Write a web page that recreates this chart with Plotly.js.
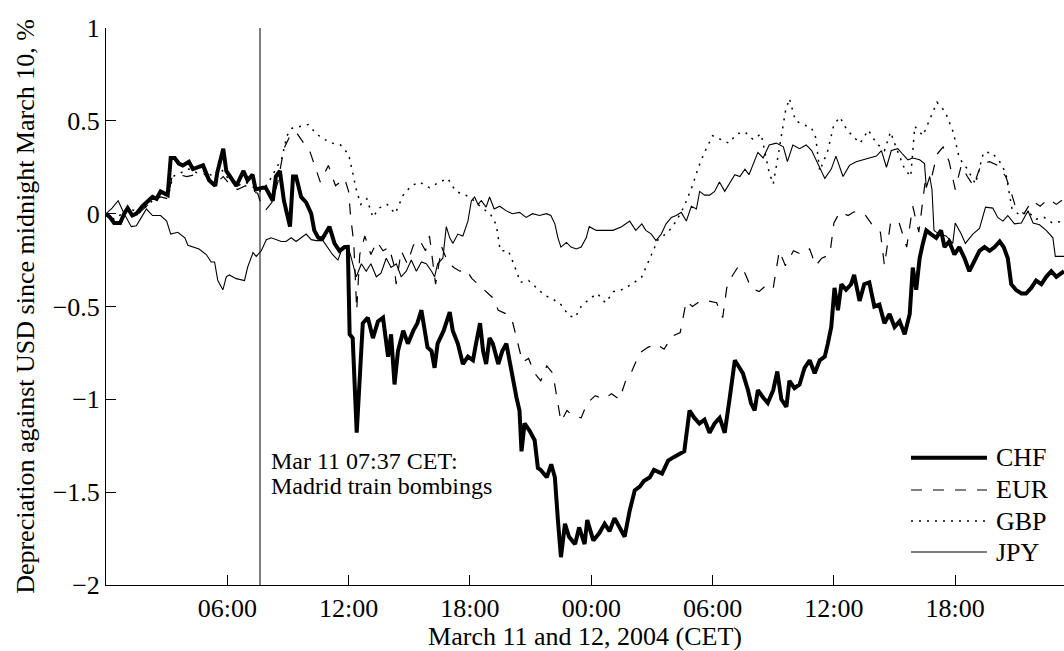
<!DOCTYPE html>
<html>
<head>
<meta charset="utf-8">
<script src="https://cdn.plot.ly/plotly-3.0.1.min.js"></script>
<style>
html,body{margin:0;padding:0;background:#fff;}
#chart{width:1064px;height:651px;}
</style>
</head>
<body>
<div id="chart"></div>
<script>
// ---- data: hours since midnight 11 March 2004 (CET), depreciation vs USD in % ----
const chfHours = [0,0.2,0.4,0.7,0.9,1.07,1.3,1.5,1.8,2.1,2.3,2.5,2.7,3.05,3.2,3.4,3.6,3.8,4.1,4.3,4.5,4.8,5.1,5.4,5.5,5.8,5.95,6.2,6.45,6.8,7.0,7.25,7.4,7.75,7.9,8.25,8.4,8.6,8.8,9.1,9.25,9.4,9.65,9.9,10.15,10.3,10.5,10.7,11.05,11.3,11.55,11.8,11.96,12.05,12.2,12.4,12.55,12.7,12.95,13.2,13.45,13.7,13.95,14.1,14.27,14.44,14.7,14.93,15.2,15.4,15.6,15.75,15.9,16.1,16.25,16.4,16.7,17.0,17.15,17.4,17.65,17.9,18.15,18.3,18.5,18.65,18.8,18.97,19.13,19.4,19.6,19.8,20.05,20.3,20.45,20.55,20.7,20.95,21.2,21.36,21.5,21.8,22.02,22.2,22.35,22.5,22.7,22.9,23.2,23.4,23.67,23.8,24.1,24.4,24.66,24.9,25.15,25.4,25.65,25.9,26.15,26.4,26.6,26.9,27.1,27.5,27.8,28.1,28.4,28.6,28.86,29.1,29.35,29.6,29.85,30.1,30.35,30.6,30.85,31.1,31.33,31.5,31.75,31.9,32.08,32.24,32.5,32.73,33.0,33.2,33.4,33.65,33.8,34.05,34.3,34.55,34.8,35.05,35.3,35.55,35.7,35.87,36.03,36.2,36.37,36.6,36.85,37.0,37.27,37.5,37.75,38.0,38.25,38.5,38.75,39.0,39.25,39.5,39.75,39.9,40.07,40.24,40.4,40.57,40.8,41.06,41.3,41.47,41.7,41.96,42.2,42.46,42.7,42.95,43.2,43.45,43.7,43.95,44.2,44.4,44.6,44.77,45.0,45.27,45.5,45.76,46.0,46.26,46.5,46.75,47.0,47.38];
const chfValues = [0,-0.02,-0.05,-0.05,0.0,0.03,-0.01,0.0,0.04,0.07,0.09,0.08,0.12,0.10,0.30,0.30,0.27,0.26,0.28,0.24,0.25,0.26,0.18,0.15,0.22,0.35,0.23,0.19,0.15,0.23,0.18,0.21,0.13,0.14,0.14,0.07,0.20,0.23,0.07,-0.07,0.20,0.20,0.09,0.06,0.0,-0.09,-0.13,-0.135,-0.07,-0.16,-0.20,-0.18,-0.18,-0.65,-0.67,-1.18,-0.86,-0.59,-0.56,-0.67,-0.58,-0.56,-0.77,-0.65,-0.92,-0.74,-0.63,-0.70,-0.63,-0.59,-0.52,-0.63,-0.72,-0.74,-0.83,-0.70,-0.63,-0.53,-0.63,-0.70,-0.81,-0.77,-0.79,-0.70,-0.59,-0.74,-0.81,-0.67,-0.70,-0.81,-0.74,-0.70,-0.85,-0.99,-1.06,-1.28,-1.13,-1.17,-1.22,-1.37,-1.38,-1.42,-1.35,-1.42,-1.65,-1.85,-1.67,-1.74,-1.78,-1.69,-1.78,-1.65,-1.76,-1.72,-1.67,-1.71,-1.64,-1.69,-1.74,-1.60,-1.49,-1.47,-1.44,-1.42,-1.38,-1.40,-1.33,-1.31,-1.29,-1.28,-1.06,-1.10,-1.13,-1.11,-1.18,-1.13,-1.10,-1.18,-0.99,-0.79,-0.83,-0.86,-0.95,-1.02,-1.06,-0.95,-0.99,-1.02,-0.95,-0.85,-1.00,-1.04,-0.90,-0.94,-0.92,-0.83,-0.79,-0.86,-0.79,-0.77,-0.70,-0.61,-0.40,-0.52,-0.38,-0.41,-0.38,-0.33,-0.47,-0.38,-0.37,-0.50,-0.49,-0.59,-0.54,-0.61,-0.58,-0.65,-0.54,-0.29,-0.41,-0.24,-0.16,-0.09,-0.11,-0.13,-0.09,-0.18,-0.15,-0.22,-0.18,-0.24,-0.31,-0.25,-0.20,-0.18,-0.20,-0.18,-0.15,-0.18,-0.24,-0.38,-0.41,-0.43,-0.43,-0.40,-0.36,-0.38,-0.34,-0.31,-0.34,-0.31];

const eurHours = [0,0.4,0.8,1.1,1.5,1.9,2.3,2.7,3.05,3.25,3.6,4.0,4.4,4.8,5.2,5.5,5.8,6.1,6.5,6.9,7.2,7.5,7.7,7.9,8.2,8.5,8.8,9.1,9.4,9.8,10.1,10.35,10.6,11.0,11.35,11.8,12.0,12.1,12.25,12.4,12.55,12.8,13.1,13.4,13.7,14.0,14.25,14.35,14.6,14.9,15.2,15.5,15.8,16.0,16.3,16.6,16.9,17.2,17.5,17.8,18.1,18.4,18.8,19.1,19.4,19.8,20.1,20.3,20.6,20.9,21.2,21.5,21.8,22.1,22.3,22.5,22.8,23.1,23.5,23.8,24.2,24.6,25.0,25.4,25.7,26.0,26.4,26.8,27.2,27.6,28.0,28.4,28.7,29.0,29.4,29.8,30.2,30.5,30.7,31.0,31.3,31.6,31.9,32.3,32.7,33.0,33.3,33.6,34.0,34.4,34.8,35.1,35.4,35.8,36.0,36.3,36.7,37.0,37.5,37.9,38.3,38.5,38.8,39.2,39.6,39.9,40.2,40.5,40.8,41.1,41.4,41.7,42.0,42.3,42.6,42.9,43.3,43.7,44.1,44.5,44.75,45.0,45.4,45.8,46.2,46.6,47.0,47.38];
const eurValues = [0,-0.04,-0.02,0.02,-0.01,0.03,0.07,0.09,0.08,0.19,0.21,0.20,0.21,0.22,0.17,0.17,0.20,0.16,0.13,0.15,0.12,0.11,0.04,0.02,0.06,0.17,0.35,0.42,0.44,0.38,0.33,0.25,0.17,0.26,0.15,0.19,0.12,-0.02,-0.15,-0.52,-0.22,-0.12,-0.22,-0.15,-0.20,-0.18,-0.28,-0.38,-0.20,-0.27,-0.17,-0.14,-0.20,-0.12,-0.38,-0.18,-0.26,-0.29,-0.31,-0.30,-0.35,-0.38,-0.42,-0.45,-0.52,-0.54,-0.58,-0.67,-0.80,-0.78,-0.86,-0.90,-0.82,-0.86,-1.00,-1.12,-1.06,-1.09,-1.10,-1.02,-0.98,-1.00,-0.97,-1.00,-0.90,-0.85,-0.75,-0.72,-0.70,-0.73,-0.66,-0.64,-0.47,-0.50,-0.47,-0.47,-0.48,-0.56,-0.40,-0.33,-0.28,-0.32,-0.40,-0.42,-0.38,-0.40,-0.20,-0.28,-0.20,-0.22,-0.19,-0.28,-0.24,-0.22,-0.05,0.01,-0.01,0.01,0.0,-0.06,-0.10,-0.28,-0.05,-0.04,-0.18,0.04,-0.10,0.16,0.18,0.32,0.36,0.28,0.13,0.26,0.20,0.15,0.27,0.28,0.26,0.20,0.12,0.03,0.0,0.07,0.04,0.08,0.05,0.08];

const gbpHours = [0,0.4,0.8,1.2,1.6,2.0,2.4,2.8,3.1,3.3,3.7,4.1,4.5,4.9,5.3,5.7,6.1,6.5,6.9,7.3,7.6,8.0,8.4,8.7,8.95,9.2,9.6,10.0,10.4,10.8,11.2,11.6,12.0,12.2,12.4,12.6,12.9,13.2,13.5,13.9,14.3,14.7,15.1,15.5,16.0,16.5,16.9,17.3,17.8,18.2,18.6,19.0,19.3,19.5,19.9,20.2,20.5,20.9,21.3,21.7,22.1,22.5,22.9,23.2,23.5,23.9,24.3,24.7,25.1,25.5,26.0,26.5,26.9,27.3,27.8,28.2,28.6,29.0,29.3,29.6,30.0,30.4,30.8,31.2,31.6,32.0,32.4,32.8,33.0,33.3,33.6,33.8,34.1,34.5,34.9,35.1,35.3,35.7,36.0,36.3,36.6,36.9,37.3,37.7,38.1,38.5,38.8,39.1,39.5,39.8,40.0,40.4,40.8,41.1,41.5,41.9,42.2,42.6,43.0,43.4,43.8,44.2,44.5,44.8,45.2,45.6,46.0,46.4,46.8,47.38];
const gbpValues = [0,-0.03,0.0,0.03,0.0,0.04,0.08,0.10,0.10,0.20,0.22,0.24,0.22,0.23,0.20,0.24,0.18,0.15,0.17,0.14,0.12,0.16,0.24,0.30,0.42,0.46,0.47,0.48,0.43,0.40,0.38,0.37,0.32,0.22,0.12,0.05,0.08,-0.02,0.03,0.05,0.0,0.10,0.15,0.17,0.14,0.17,0.19,0.12,0.10,0.07,0.03,0.0,-0.06,-0.20,-0.20,-0.28,-0.37,-0.36,-0.40,-0.44,-0.46,-0.49,-0.55,-0.56,-0.50,-0.46,-0.43,-0.48,-0.42,-0.41,-0.38,-0.34,-0.24,-0.14,-0.10,-0.04,0.04,0.15,0.25,0.33,0.42,0.40,0.38,0.43,0.44,0.40,0.43,0.22,0.16,0.35,0.55,0.62,0.50,0.48,0.46,0.41,0.23,0.34,0.48,0.52,0.46,0.42,0.38,0.45,0.38,0.34,0.44,0.35,0.24,0.20,0.47,0.42,0.52,0.60,0.55,0.44,0.30,0.24,0.16,0.33,0.33,0.28,0.22,0.03,-0.01,0.01,-0.03,-0.02,-0.05,-0.04];

const jpyHours = [0,0.3,0.6,0.9,1.25,1.5,1.75,2.0,2.3,2.7,3.0,3.2,3.55,3.9,4.05,4.3,4.6,4.96,5.2,5.37,5.53,5.78,5.95,6.1,6.44,6.85,7.0,7.27,7.43,7.68,7.93,8.17,8.4,8.67,8.9,9.16,9.4,9.65,9.9,10.15,10.4,10.73,10.97,11.2,11.47,11.7,11.96,12.2,12.38,12.63,12.87,13.1,13.37,13.6,13.86,14.1,14.36,14.6,14.85,15.1,15.35,15.6,15.84,16.1,16.25,16.4,16.66,16.83,17.0,17.16,17.4,17.65,17.9,18.07,18.23,18.4,18.56,18.8,18.97,19.2,19.47,19.8,20.1,20.45,20.78,21.1,21.44,21.78,22.0,22.2,22.35,22.5,22.77,23.0,23.26,23.5,23.75,23.9,24.25,24.66,25.07,25.5,25.9,26.2,26.5,26.7,26.97,27.2,27.46,27.7,27.96,28.2,28.45,28.7,28.95,29.2,29.36,29.6,29.85,30.1,30.34,30.6,30.84,31.1,31.35,31.6,31.8,32.0,32.24,32.5,32.8,33.15,33.5,33.7,33.97,34.3,34.63,34.9,35.15,35.55,35.87,36.1,36.45,36.77,37.1,37.43,37.76,38.1,38.35,38.6,38.84,39.16,39.4,39.66,39.9,40.24,40.48,40.57,40.74,40.85,40.95,41.2,41.55,41.88,42.0,42.3,42.5,42.87,43.2,43.5,43.86,44.1,44.36,44.6,44.93,45.27,45.6,45.85,46.17,46.5,46.83,46.95,47.38];
const jpyValues = [0,0.03,0.07,0.0,-0.07,-0.065,-0.02,0.025,-0.01,-0.01,-0.04,-0.11,-0.10,-0.13,-0.17,-0.18,-0.19,-0.22,-0.26,-0.26,-0.36,-0.41,-0.34,-0.33,-0.35,-0.36,-0.29,-0.21,-0.23,-0.20,-0.14,-0.13,-0.14,-0.15,-0.15,-0.13,-0.15,-0.13,-0.11,-0.14,-0.145,-0.145,-0.18,-0.22,-0.25,-0.18,-0.17,-0.27,-0.34,-0.27,-0.31,-0.27,-0.34,-0.32,-0.24,-0.29,-0.27,-0.34,-0.31,-0.25,-0.31,-0.26,-0.27,-0.31,-0.34,-0.27,-0.24,-0.07,-0.13,-0.16,-0.11,-0.12,-0.04,0.07,0.09,0.05,0.07,0.035,0.09,0.025,0.04,0.015,0.0,0.007,-0.02,0.0,-0.01,0.0,-0.01,-0.055,-0.13,-0.18,-0.155,-0.18,-0.19,-0.18,-0.13,-0.07,-0.09,-0.09,-0.09,-0.07,-0.04,-0.09,-0.055,-0.09,-0.11,-0.145,-0.11,-0.055,-0.02,-0.01,0.007,-0.04,0.04,0.025,0.12,0.10,0.10,0.12,0.17,0.12,0.16,0.21,0.20,0.24,0.21,0.26,0.33,0.30,0.37,0.38,0.36,0.28,0.37,0.35,0.37,0.34,0.28,0.19,0.24,0.31,0.20,0.26,0.28,0.29,0.30,0.31,0.34,0.25,0.34,0.35,0.32,0.29,0.30,0.29,0.27,0.14,0.20,0.13,-0.09,-0.11,-0.12,-0.16,-0.05,-0.11,-0.16,-0.11,-0.08,0.035,0.03,-0.02,-0.04,-0.01,-0.055,-0.05,0.016,-0.05,-0.06,-0.09,-0.13,-0.23,-0.23];

const seriesNames = ['CHF', 'EUR', 'GBP', 'JPY'];
const tickHours = [6, 12, 18, 24, 30, 36, 42];
const tickLabels = ['06:00', '12:00', '18:00', '00:00', '06:00', '12:00', '18:00'];
const eventHour = 7 + 37 / 60;
const eventLines = ['Mar 11 07:37 CET:', 'Madrid train bombings'];
const rangeHours = [0, 47.38];

// ---- helpers ----
function toDate(h) {
  const d = new Date(Date.UTC(2004, 2, 11) + Math.round(h * 3600000));
  return d.toISOString().slice(0, 19).replace('T', ' ');
}
const FONT = '"Liberation Serif", "Times New Roman", serif';
const styles = {
  CHF: {color: '#000', width: 4},
  EUR: {color: '#000', width: 1.2, dash: '11px,11px'},
  GBP: {color: '#000', width: 1.5, dash: '2px,6px'},
  JPY: {color: '#000', width: 1.1}
};
const seriesData = {
  CHF: [chfHours, chfValues],
  EUR: [eurHours, eurValues],
  GBP: [gbpHours, gbpValues],
  JPY: [jpyHours, jpyValues]
};

const drawOrder = ['JPY', 'GBP', 'EUR', 'CHF'];
const traces = drawOrder.map(name => ({
  type: 'scatter',
  mode: 'lines',
  name: name,
  x: seriesData[name][0].map(toDate),
  y: seriesData[name][1],
  line: styles[name],
  showlegend: false,
  hoverinfo: 'skip'
}));

// custom legend (long line samples as in the original figure)
const legendX0 = 0.8403, legendX1 = 0.9196, legendTextX = 0.927;
const legendY = [0.2285, 0.1706, 0.1149, 0.0592];
const shapes = [{
  type: 'line', xref: 'x', yref: 'paper',
  x0: toDate(eventHour), x1: toDate(eventHour), y0: 0, y1: 1,
  line: {color: '#000', width: 1}
}];
const annotations = [];
seriesNames.forEach((name, i) => {
  const st = styles[name];
  shapes.push({
    type: 'line', xref: 'paper', yref: 'paper',
    x0: legendX0, x1: legendX1, y0: legendY[i], y1: legendY[i],
    line: {color: st.color, width: st.width, dash: st.dash || 'solid'}
  });
  annotations.push({
    xref: 'paper', yref: 'paper', x: legendTextX, y: legendY[i],
    xanchor: 'left', yanchor: 'middle', showarrow: false,
    text: name, font: {family: FONT, size: 26, color: '#000'}
  });
});
eventLines.forEach((t, i) => {
  annotations.push({
    xref: 'x', yref: 'paper', x: toDate(eventHour), xshift: 9,
    y: [0.222, 0.177][i], xanchor: 'left', yanchor: 'middle', showarrow: false,
    text: t, font: {family: FONT, size: 24, color: '#000'}
  });
});

const layout = {
  width: 1064, height: 651,
  margin: {l: 106, r: 0, t: 28, b: 66},
  paper_bgcolor: '#fff', plot_bgcolor: '#fff',
  font: {family: FONT, size: 26, color: '#000'},
  showlegend: false,
  xaxis: {
    type: 'date',
    range: rangeHours.map(toDate),
    tickmode: 'array',
    tickvals: tickHours.map(toDate),
    ticktext: tickLabels,
    ticks: 'inside', ticklen: 10, tickwidth: 1, tickcolor: '#000',
    showline: true, linecolor: '#000', linewidth: 1,
    showgrid: false, zeroline: false,
    tickfont: {family: FONT, size: 26, color: '#000'},
    title: {text: 'March 11 and 12, 2004 (CET)', font: {family: FONT, size: 26, color: '#000'}, standoff: 4}
  },
  yaxis: {
    range: [-2, 1],
    tick0: 0, dtick: 0.5,
    ticks: 'inside', ticklen: 10, tickwidth: 1, tickcolor: '#000',
    showline: true, linecolor: '#000', linewidth: 1,
    showgrid: false, zeroline: false,
    tickfont: {family: FONT, size: 26, color: '#000'},
    title: {text: 'Depreciation against USD since midnight March 10, %', font: {family: FONT, size: 26, color: '#000'}, standoff: 10}
  },
  shapes: shapes,
  annotations: annotations
};

Plotly.newPlot('chart', traces, layout, {displayModeBar: false, staticPlot: true});
</script>
</body>
</html>
